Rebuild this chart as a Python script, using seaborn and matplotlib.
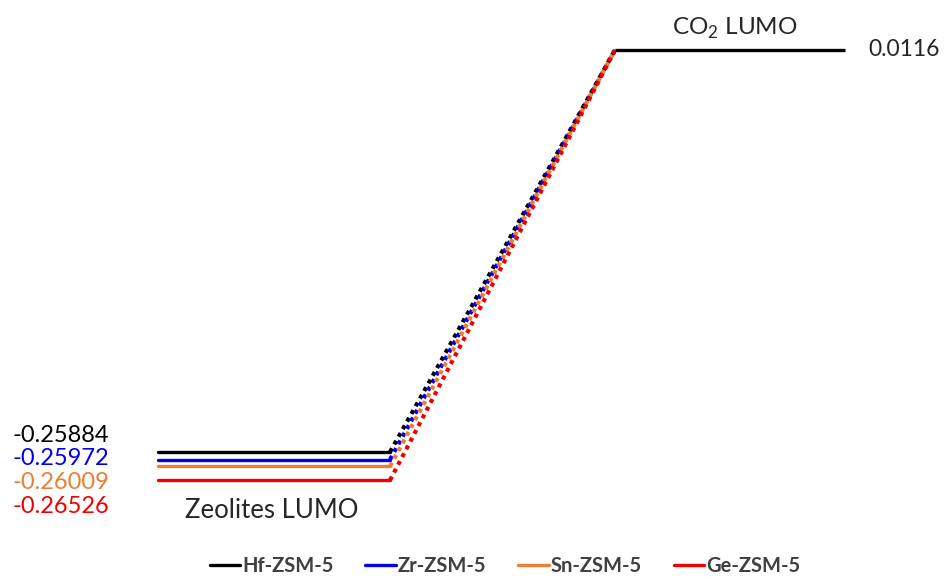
import matplotlib
matplotlib.use("Agg")
import matplotlib.pyplot as plt
import seaborn as sns
import pandas as pd

# ─────────────────────────────────────────
# Data
# ─────────────────────────────────────────
catalysts = ["Hf-ZSM-5", "Zr-ZSM-5", "Sn-ZSM-5", "Ge-ZSM-5"]
zeolite_lumo = [-0.25884, -0.25972, -0.26009, -0.26526]
co2_lumo = 0.0116
value_labels = ["-0.25884", "-0.25972", "-0.26009", "-0.26526"]
colors = ["#000000", "#0000ee", "#ed7d31", "#ee0000"]

# ─────────────────────────────────────────
# Layout / style
# ─────────────────────────────────────────
W, H = 947, 577
LEVEL_X = (158, 390)       # zeolite level span (pixels)
CO2_X = (615, 845)         # CO2 level span (pixels)
STAGGER = 0.0042           # vertical stagger between zeolite levels, for visibility
PX_PER_UNIT = 1486.5
Y_TOP = co2_lumo + 50 / PX_PER_UNIT
Y_BOT = co2_lumo - (H - 50) / PX_PER_UNIT

sns.set_theme(style="white")
plt.rcParams["font.family"] = ["Lato", "DejaVu Sans"]
plt.rcParams["mathtext.fontset"] = "custom"
plt.rcParams["mathtext.rm"] = "Lato"

fig = plt.figure(figsize=(W / 100, H / 100), dpi=100)
ax = fig.add_axes([0, 0, 1, 1])
ax.set_xlim(0, W)
ax.set_ylim(Y_BOT, Y_TOP)
ax.axis("off")

# drawn heights (true value + small stagger so the levels don't overlap)
y_draw = [v - i * STAGGER for i, v in enumerate(zeolite_lumo)]

levels = pd.DataFrame({
    "x": [x for _ in catalysts for x in LEVEL_X],
    "y": [y for y in y_draw for _ in LEVEL_X],
    "catalyst": [c for c in catalysts for _ in LEVEL_X],
})
links = pd.DataFrame({
    "x": [x for _ in catalysts for x in (LEVEL_X[1], CO2_X[0])],
    "y": [y for y in y_draw for y in (y, co2_lumo)],
    "catalyst": [c for c in catalysts for _ in range(2)],
})
palette = dict(zip(catalysts, colors))

sns.lineplot(data=levels, x="x", y="y", hue="catalyst", palette=palette,
             sort=False, linewidth=2.4, ax=ax, legend=True)
for c in catalysts:
    seg = links[links["catalyst"] == c]
    sns.lineplot(data=seg, x="x", y="y", color=palette[c], sort=False,
                 linewidth=3.0, linestyle=(0, (1.0, 1.1)), ax=ax, legend=False)

# CO2 level
ax.plot(CO2_X, [co2_lumo, co2_lumo], color="black", linewidth=2.4,
        solid_capstyle="butt")

# value labels on the left
for i, (lab, col) in enumerate(zip(value_labels, colors)):
    ax.text(12 / W, 1 - (435 + i * 23.7) / H, lab, color=col, fontsize=17,
            ha="left", va="center", transform=ax.transAxes)

ax.text(272 / W, 1 - 510 / H, "Zeolites LUMO", fontsize=18.5, ha="center",
        va="center", transform=ax.transAxes)
ax.text(735 / W, 1 - 28 / H, "CO$_2$ LUMO", fontsize=17.5, ha="center",
        va="center", transform=ax.transAxes)
ax.text(868, co2_lumo, f"{co2_lumo:.4f}", fontsize=16.5, ha="left", va="center")

leg = ax.legend(loc="center", bbox_to_anchor=(505 / W, 1 - 566 / H), ncol=4,
                frameon=False, handlelength=1.5, handletextpad=0.1,
                columnspacing=1.6, fontsize=14.5)
for t in leg.get_texts():
    t.set_color("#404040")
    t.set_fontweight("bold")

fig.savefig("out.png", dpi=100)
